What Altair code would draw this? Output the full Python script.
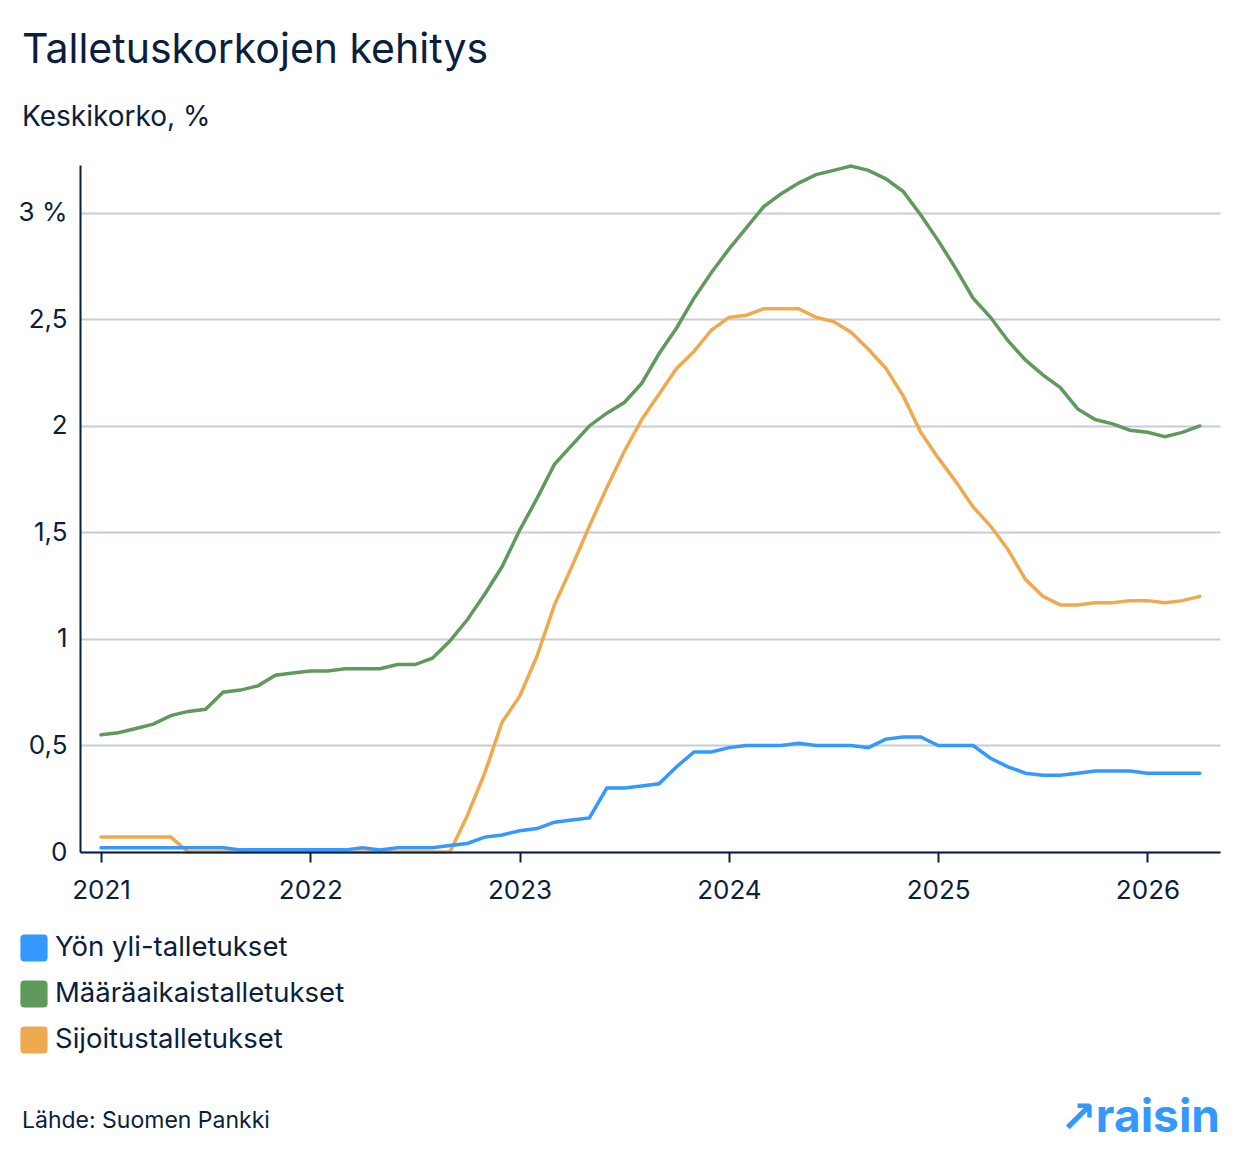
import altair as alt
import pandas as pd

# ---------------- data ----------------
months = [f"{y}-{m:02d}" for y in range(2021, 2027) for m in range(1, 13)][:64]

series_names = ["Yön yli-talletukset", "Määräaikaistalletukset", "Sijoitustalletukset"]
series_colors = ["#3399FF", "#5F9A5C", "#EFA94F"]

yon_yli = [
    0.02, 0.02, 0.02, 0.02, 0.02, 0.02, 0.02, 0.02, 0.01, 0.01, 0.01, 0.01,
    0.01, 0.01, 0.01, 0.02, 0.01, 0.02, 0.02, 0.02, 0.03, 0.04, 0.07, 0.08,
    0.10, 0.11, 0.14, 0.15, 0.16, 0.30, 0.30, 0.31, 0.32, 0.40, 0.47, 0.47,
    0.49, 0.50, 0.50, 0.50, 0.51, 0.50, 0.50, 0.50, 0.49, 0.53, 0.54, 0.54,
    0.50, 0.50, 0.50, 0.44, 0.40, 0.37, 0.36, 0.36, 0.37, 0.38, 0.38, 0.38,
    0.37, 0.37, 0.37, 0.37,
]
maaraaikais = [
    0.55, 0.56, 0.58, 0.60, 0.64, 0.66, 0.67, 0.75, 0.76, 0.78, 0.83, 0.84,
    0.85, 0.85, 0.86, 0.86, 0.86, 0.88, 0.88, 0.91, 0.99, 1.09, 1.21, 1.34,
    1.51, 1.66, 1.82, 1.91, 2.00, 2.06, 2.11, 2.20, 2.34, 2.46, 2.60, 2.72,
    2.83, 2.93, 3.03, 3.09, 3.14, 3.18, 3.20, 3.22, 3.20, 3.16, 3.10, 2.99,
    2.87, 2.74, 2.60, 2.51, 2.40, 2.31, 2.24, 2.18, 2.08, 2.03, 2.01, 1.98,
    1.97, 1.95, 1.97, 2.00,
]
sijoitus = [
    0.07, 0.07, 0.07, 0.07, 0.07, 0.00, 0.00, 0.00, 0.00, 0.00, 0.00, 0.00,
    0.00, 0.00, 0.00, 0.00, 0.00, 0.00, 0.00, 0.00, 0.00, 0.17, 0.37, 0.61,
    0.73, 0.92, 1.16, 1.34, 1.53, 1.71, 1.88, 2.03, 2.15, 2.27, 2.35, 2.45,
    2.51, 2.52, 2.55, 2.55, 2.55, 2.51, 2.49, 2.44, 2.36, 2.27, 2.14, 1.97,
    1.85, 1.74, 1.62, 1.53, 1.42, 1.28, 1.20, 1.16, 1.16, 1.17, 1.17, 1.18,
    1.18, 1.17, 1.18, 1.20,
]

year_ticks = [2021, 2022, 2023, 2024, 2025, 2026]
y_ticks = [0, 0.5, 1, 1.5, 2, 2.5, 3]

title_text = "Talletuskorkojen kehitys"
subtitle_text = "Keskikorko, %"
source_text = ["Lähde: Suomen Pankki"]
logo_arrow = ["↗"]
logo_word = ["raisin"]

# ---------------- table ----------------
rows = []
# drawing order: orange, green, blue on top
for name, vals in [(series_names[2], sijoitus), (series_names[1], maaraaikais), (series_names[0], yon_yli)]:
    for m, v in zip(months, vals):
        yy, mm = int(m[:4]), int(m[5:])
        rows.append({"kk": m, "t": yy + (mm - 1) / 12, "v": v, "sarja": name})
df = pd.DataFrame(rows)
df_first = df.groupby("sarja", as_index=False).first()

NAVY = "#0B1E3D"
FONT = "Inter"

color_scale = alt.Scale(domain=series_names, range=series_colors)

rounded_square = (
    "M-0.7,-1 L0.7,-1 Q1,-1 1,-0.7 L1,0.7 Q1,1 0.7,1 L-0.7,1 "
    "Q-1,1 -1,0.7 L-1,-0.7 Q-1,-1 -0.7,-1 Z"
)
legend_def = alt.Legend(
    title=None, orient="none", legendX=-60, legendY=769,
    symbolType=rounded_square, symbolSize=740, symbolStrokeWidth=0,
    labelFontSize=27.5, labelColor=NAVY, labelFont=FONT, labelOffset=7,
    rowPadding=18, padding=0, labelLimit=600,
)

x_enc = alt.X(
    "t:Q",
    scale=alt.Scale(domain=[2020.8997, 2026.3464], nice=False, zero=False),
    axis=alt.Axis(
        values=year_ticks, format="d", title=None, grid=False,
        tickSize=10, tickWidth=2, tickColor=NAVY,
        domainColor=NAVY, domainWidth=2,
        labelFontSize=26, labelColor=NAVY, labelFont=FONT, labelPadding=15,
        labelFlush=False, zindex=1,
    ),
)
y_enc = alt.Y(
    "v:Q",
    scale=alt.Scale(domain=[0, 3.225], nice=False, zero=True),
    axis=alt.Axis(
        values=y_ticks, title=None, ticks=False,
        labelExpr="datum.value == 3 ? '3 %' : replace(toString(datum.value), '.', ',')",
        domainColor=NAVY, domainWidth=2,
        grid=True, gridColor="#C8CCD8", gridWidth=2,
        labelFontSize=26, labelColor=NAVY, labelFont=FONT, labelPadding=13,
    ),
)

lines = alt.Chart(df).mark_line(strokeWidth=3.5, strokeCap="round").encode(
    x=x_enc,
    y=y_enc,
    color=alt.Color("sarja:N", scale=color_scale, legend=legend_def),
    detail="sarja:N",
)

legend_pts = alt.Chart(df_first).mark_point(size=0, filled=True, opacity=1).encode(
    x=alt.X("t:Q"),
    y=alt.Y("v:Q"),
    color=alt.Color("sarja:N", scale=color_scale, legend=legend_def),
)

source = alt.Chart(pd.DataFrame({"txt": source_text})).mark_text(
    align="left", baseline="alphabetic", fontSize=23, font=FONT, color=NAVY
).encode(x=alt.value(-58), y=alt.value(963), text="txt:N")

arrow = alt.Chart(pd.DataFrame({"txt": logo_arrow})).mark_text(
    align="left", baseline="alphabetic", fontSize=44, font="DejaVu Sans", fontWeight="bold",
    color="#3399FF"
).encode(x=alt.value(980), y=alt.value(967), text="txt:N")

word = alt.Chart(pd.DataFrame({"txt": logo_word})).mark_text(
    align="right", baseline="alphabetic", fontSize=46, font=FONT, fontWeight="bold",
    color="#3399FF"
).encode(x=alt.value(1140), y=alt.value(967), text="txt:N")

chart = (
    alt.layer(lines, legend_pts, source, arrow, word)
    .properties(
        width=1140,
        height=687,
        background="white",
        autosize=alt.AutoSizeParams(type="none"),
        padding={"left": 80, "top": 165, "right": 20, "bottom": 302},
        title=alt.Title(
            title_text, subtitle=subtitle_text, anchor="start", frame="group",
            dx=-58, offset=26, fontSize=41, font=FONT, fontWeight="normal", color=NAVY,
            subtitleFontSize=28, subtitleFont=FONT, subtitleColor=NAVY, subtitlePadding=32,
        ),
    )
    .configure_view(strokeWidth=0, stroke=None)
)

chart.save("out.html", embed_options={"renderer": "svg", "actions": False})
